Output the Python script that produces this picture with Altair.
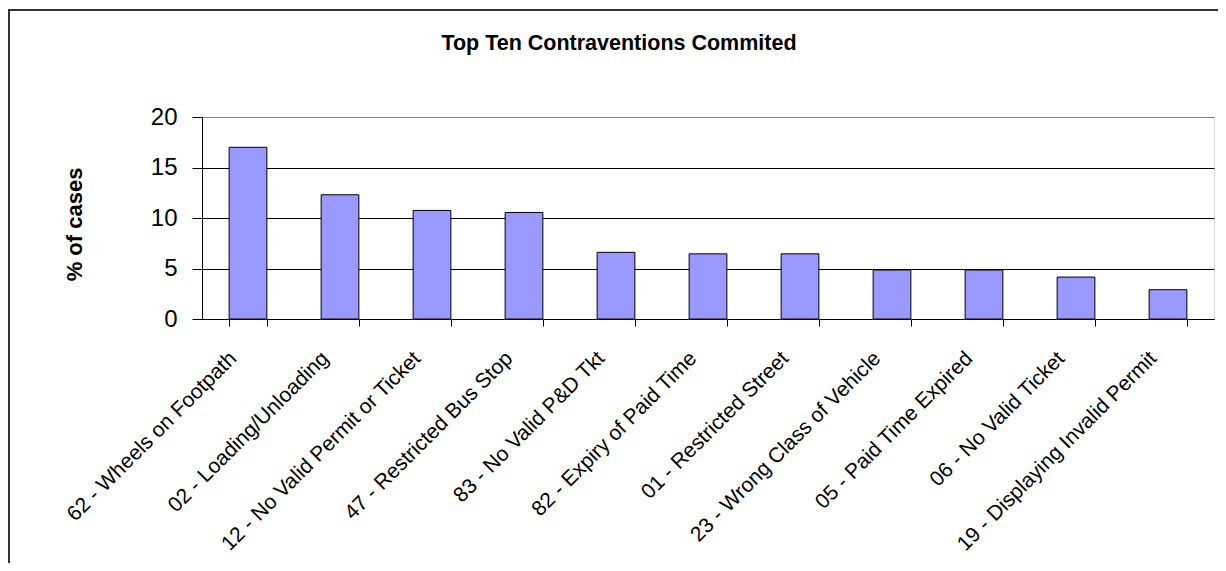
import altair as alt
import pandas as pd

categories = [
    "62 - Wheels on Footpath",
    "02 - Loading/Unloading",
    "12 - No Valid Permit or Ticket",
    "47 - Restricted Bus Stop",
    "83 - No Valid P&D Tkt",
    "82 - Expiry of Paid Time",
    "01 - Restricted Street",
    "23 - Wrong Class of Vehicle",
    "05 - Paid Time Expired",
    "06 - No Valid Ticket",
    "19 - Displaying Invalid Permit",
]
values = [17.0, 12.3, 10.75, 10.55, 6.6, 6.45, 6.45, 4.85, 4.85, 4.15, 2.9]
y_ticks = [0, 5, 10, 15, 20]

df = pd.DataFrame({"cat": categories, "pct": values})
FONT = "Liberation Sans"

frame = alt.Chart(alt.Data(values=[{}])).mark_rect(
    filled=False, stroke="#333333", strokeWidth=2
).encode(
    x=alt.value(-193), x2=alt.value(1040), y=alt.value(-107), y2=alt.value(480)
)

bars = alt.Chart(df).mark_bar(
    color="#9999FF", stroke="black", strokeWidth=1
).encode(
    x=alt.X(
        "cat:N",
        sort=None,
        scale=alt.Scale(paddingInner=0.59, paddingOuter=0.295),
        axis=alt.Axis(
            title=None,
            tickBand="extent",
            labelAngle=-45,
            labelAlign="right",
            labelBaseline="middle",
            labelPadding=29,
            labelOffset=-15,
            labelFontSize=21,
            labelFont=FONT,
            labelColor="black",
            labelLimit=500,
            tickSize=7,
            tickColor="black",
            domainColor="black",
            grid=False,
        ),
    ),
    y=alt.Y(
        "pct:Q",
        scale=alt.Scale(domain=[0, 20], nice=False),
        axis=alt.Axis(
            title="% of cases",
            values=y_ticks,
            labelFontSize=24,
            labelFont=FONT,
            labelColor="black",
            labelPadding=15,
            tickSize=10,
            tickColor="black",
            domainColor="black",
            grid=True,
            gridColor={"condition": {"test": "datum.value === 20", "value": "#808080"}, "value": "black"},
            gridWidth=1,
            titleFont=FONT,
            titleFontSize=22,
            titleFontWeight="bold",
            titleColor="black",
            titleX=-128,
            titleY=107,
            titleAlign="center",
            titleBaseline="middle",
            titleAngle=-90,
        ),
    ),
)

chart = alt.layer(frame, bars).properties(
    width=1012,
    height=202,
    autosize="none",
    padding={"left": 194, "top": 109, "right": 4, "bottom": 244},
    title=alt.TitleParams(
        "Top Ten Contraventions Commited",
        font=FONT,
        fontSize=21.5,
        fontWeight="bold",
        color="black",
        anchor="middle",
        frame="group",
        dx=-89,
        dy=62,
        offset=0,
        baseline="alphabetic",
    ),
).configure_view(
    fill="#C0C0C0", stroke="#808080", strokeWidth=1
).configure(background="white")

chart.save("out.html", embed_options={"renderer": "svg", "actions": False})
